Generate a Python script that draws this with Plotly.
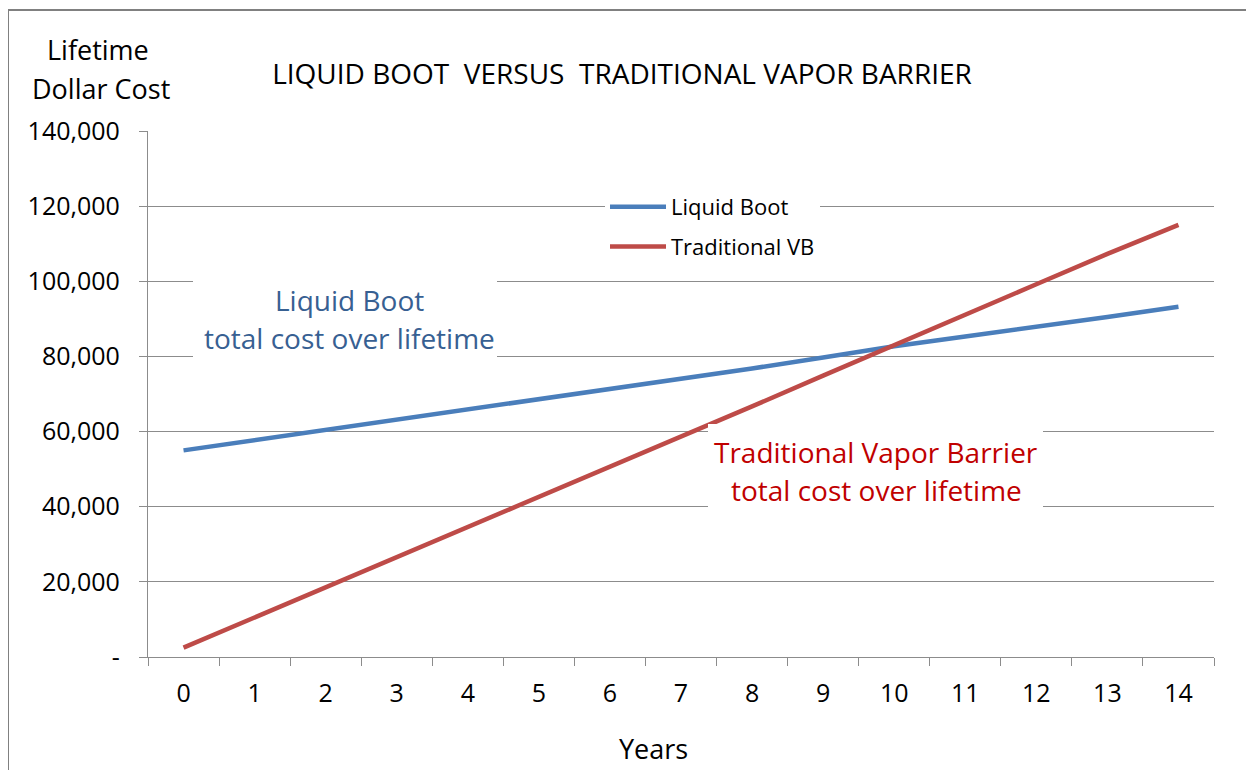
import plotly.graph_objects as go

years = [str(i) for i in range(15)]
liquid_boot = [55000, 57700, 60500, 63200, 65900, 68600, 71400, 74100,
               76800, 79700, 82700, 85300, 87800, 90500, 93200]
traditional_vb = [2500, 10500, 18600, 26600, 34700, 42700, 50700, 58700,
                  66700, 74900, 82900, 91200, 99200, 107300, 115000]
y_ticks = [0, 20000, 40000, 60000, 80000, 100000, 120000, 140000]
y_tick_labels = ["-", "20,000", "40,000", "60,000", "80,000", "100,000", "120,000", "140,000"]

FONT = "Open Sans"
OFF = 8  # page body margin
W, H = 1254 - OFF, 770 - OFF
PL, PR, PT, PB = 148, 1214, 131, 657  # plot area in screen px
L, T = PL - OFF, PT - OFF
R, B = W - (PR - OFF), H - (PB - OFF)
PW, PH = PR - PL, PB - PT

def px(x):
    return (x - PL) / PW

def py(y):
    return (PB - y) / PH

fig = go.Figure()
fig.add_trace(go.Scatter(x=years, y=liquid_boot, mode="lines", name="Liquid Boot",
                         line=dict(color="#4A7EBB", width=4.5), legendgroup="a"))
fig.add_trace(go.Scatter(x=years, y=traditional_vb, mode="lines", name="Traditional VB",
                         line=dict(color="#BE4B48", width=4.5), legendgroup="b"))

grid = "#8c8c8c"
fig.update_layout(
    width=W, height=H,
    margin=dict(l=L, r=R, t=T, b=B),
    paper_bgcolor="white", plot_bgcolor="white",
    font=dict(family=FONT, color="#000000", size=24),
    title=dict(text="LIQUID BOOT  VERSUS  TRADITIONAL VAPOR BARRIER",
               x=px(622), xref="paper", xanchor="center",
               y=1 - (74 - OFF) / H, yref="container", yanchor="middle",
               font=dict(family=FONT, size=28, color="#000000")),
    xaxis=dict(type="category", showgrid=False, showline=True, linecolor=grid, linewidth=1.3,
               ticks="outside", ticklen=8, tickcolor=grid, tickwidth=1.3,
               tickson="boundaries", ticklabelstandoff=14,
               tickfont=dict(size=25), range=[-0.5, 14.5]),
    yaxis=dict(range=[0, 140000], tickvals=y_ticks, ticktext=y_tick_labels,
               showgrid=True, gridcolor=grid, gridwidth=1.3, zeroline=False,
               showline=True, linecolor=grid, linewidth=1.3,
               ticks="outside", ticklen=8, tickcolor=grid, tickwidth=1.3,
               ticklabelstandoff=14, tickfont=dict(size=25)),
    legend=dict(x=px(605), y=py(186), xanchor="left", yanchor="top",
                bgcolor="white", font=dict(family=FONT, size=22, color="#000000"),
                traceorder="grouped", tracegroupgap=8, itemwidth=56),
    showlegend=True,
)

# white text boxes
fig.add_shape(type="rect", xref="paper", yref="paper",
              x0=px(193), x1=px(497), y0=py(358), y1=py(281),
              fillcolor="white", line=dict(width=0), layer="above")
fig.add_shape(type="rect", xref="paper", yref="paper",
              x0=px(708), x1=px(1043), y0=py(507), y1=py(424),
              fillcolor="white", line=dict(width=0), layer="above")
# outer frame
fig.add_shape(type="path", xref="paper", yref="paper",
              path=f"M {px(8)} {py(790)} L {px(8)} {py(10)} L {px(1270)} {py(10)}",
              line=dict(color="#808080", width=2))

blue_txt = "#376092"
red_txt = "#C00000"
ann = [
    ("Lifetime", 98, 50, "#000000", 27),
    ("Dollar Cost", 101, 88, "#000000", 27),
    ("Liquid Boot", 349, 300, blue_txt, 28),
    ("total cost over lifetime", 349, 338, blue_txt, 28),
    ("Traditional Vapor Barrier", 876, 452, red_txt, 28),
    ("total cost over lifetime", 876, 490, red_txt, 28),
    ("Years", 653, 748, "#000000", 27),
]
for text, x, y, color, size in ann:
    fig.add_annotation(text=text, x=px(x), y=py(y), xref="paper", yref="paper",
                       xanchor="center", yanchor="middle", showarrow=False,
                       font=dict(family=FONT, size=size, color=color))

fig.write_html("out.html")
